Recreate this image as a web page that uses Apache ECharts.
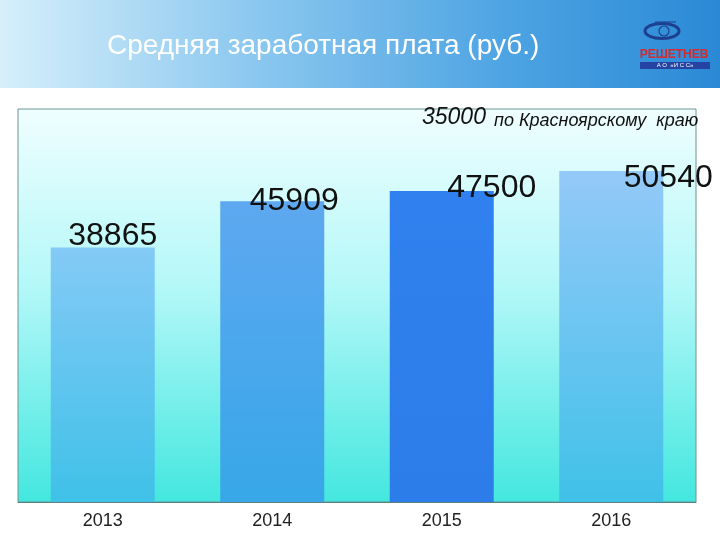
<!DOCTYPE html>
<html>
<head>
<meta charset="utf-8">
<script src="https://cdn.jsdelivr.net/npm/echarts@6/dist/echarts.min.js"></script>
<style>
html,body{margin:0;padding:0;background:#fff;}
#c{width:720px;height:540px;}
</style>
</head>
<body>
<div id="c"></div>
<script>
// ---- data ----
const years = ['2013', '2014', '2015', '2016'];
const salary = [38865, 45909, 47500, 50540];
const regionAvg = 35000;
const regionNote = 'по Красноярскому  краю';
const titleText = 'Средняя заработная плата (руб.)';
const yMax = 60000;

// ---- styling ----
const barGradients = [
  ['#84caf6', '#3fc1e8'],
  ['#5ea8f0', '#37a7e8'],
  ['#3081ef', '#2c7de9'],
  ['#94c9f9', '#40c1e8']
];
const labelOffsets = [[10, 5], [22, 16], [50, 13], [57, 23]];

function grad(c) {
  return new echarts.graphic.LinearGradient(0, 0, 0, 1, [
    { offset: 0, color: c[0] }, { offset: 1, color: c[1] }
  ]);
}

const chart = echarts.init(document.getElementById('c'), null, { renderer: 'canvas' });

const option = {
  backgroundColor: '#ffffff',
  animation: false,
  title: {
    text: titleText,
    left: 102,
    top: 27,
    textStyle: { color: '#ffffff', fontSize: 28, fontWeight: 'normal', fontFamily: 'Liberation Sans, Arial, sans-serif' }
  },
  grid: {
    left: 18, right: 24, top: 109, bottom: 38,
    show: true,
    borderColor: '#6f9494',
    borderWidth: 1,
    backgroundColor: new echarts.graphic.LinearGradient(0, 0, 0, 1, [
      { offset: 0, color: '#f0feff' },
      { offset: 0.45, color: '#b4f8f8' },
      { offset: 1, color: '#43e7df' }
    ])
  },
  xAxis: {
    type: 'category',
    data: years,
    axisLine: { show: true, lineStyle: { color: '#5f8080', width: 1 } },
    axisTick: { show: false },
    axisLabel: { color: '#222', fontSize: 18, margin: 10, fontFamily: 'Liberation Sans, Arial, sans-serif' }
  },
  yAxis: {
    type: 'value',
    min: 0,
    max: yMax,
    show: false,
    splitLine: { show: false }
  },
  series: [{
    type: 'bar',
    barWidth: 104,
    data: salary.map((v, i) => ({
      value: v,
      itemStyle: { color: grad(barGradients[i]) },
      label: { offset: labelOffsets[i] }
    })),
    label: {
      show: true,
      position: 'top',
      distance: 0,
      color: '#111',
      fontSize: 32,
      fontFamily: 'Liberation Sans, Arial, sans-serif'
    }
  }],
  graphic: [
    {
      type: 'rect', z: -10, silent: true,
      shape: { x: 0, y: 0, width: 720, height: 88 },
      style: {
        fill: new echarts.graphic.LinearGradient(0, 0, 1, 0, [
          { offset: 0, color: '#d6effb' },
          { offset: 0.35, color: '#8cc8ef' },
          { offset: 0.7, color: '#4ea4e3' },
          { offset: 1, color: '#2a89d5' }
        ])
      }
    },
    // logo
    {
      type: 'ellipse', silent: true,
      shape: { cx: 662, cy: 31, rx: 17, ry: 7.5 },
      style: { fill: 'none', stroke: '#1d3f8f', lineWidth: 3 }
    },
    {
      type: 'circle', silent: true,
      shape: { cx: 664, cy: 31, r: 5 },
      style: { fill: 'none', stroke: '#1d3f8f', lineWidth: 1.2 }
    },
    {
      type: 'line', silent: true,
      shape: { x1: 655, y1: 22, x2: 676, y2: 22 },
      style: { stroke: '#1d3f8f', lineWidth: 1 }
    },
    {
      type: 'text', silent: true,
      style: {
        x: 674, y: 55, text: 'РЕШЕТНЕВ', textAlign: 'center', textVerticalAlign: 'middle',
        fill: '#d42a2a', font: 'bold 12px "Liberation Sans Narrow", "Liberation Sans", sans-serif'
      }
    },
    {
      type: 'rect', silent: true,
      shape: { x: 640, y: 62, width: 70, height: 7 },
      style: { fill: '#2543a3' }
    },
    {
      type: 'text', silent: true,
      style: {
        x: 675, y: 65.5, text: 'А О  «И С С»', textAlign: 'center', textVerticalAlign: 'middle',
        fill: '#ffffff', font: '6px "Liberation Sans", sans-serif'
      }
    },
    // regional average note
    {
      type: 'text', silent: true,
      style: {
        x: 422, y: 118, text: String(regionAvg), textAlign: 'left', textVerticalAlign: 'middle',
        fill: '#111', font: 'italic 23px "Liberation Sans", Arial, sans-serif'
      }
    },
    {
      type: 'text', silent: true,
      style: {
        x: 494, y: 121, text: regionNote, textAlign: 'left', textVerticalAlign: 'middle',
        fill: '#111', font: 'italic 18px "Liberation Sans", Arial, sans-serif'
      }
    }
  ]
};

chart.setOption(option);
</script>
</body>
</html>
